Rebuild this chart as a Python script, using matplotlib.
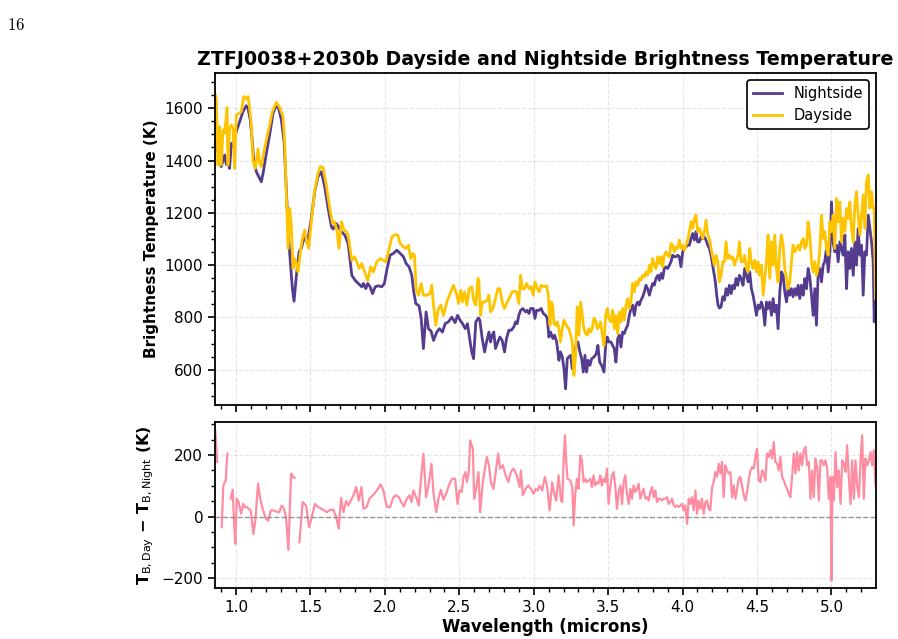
import numpy as np
import matplotlib
matplotlib.use("Agg")
from matplotlib import pyplot as plt
from matplotlib.ticker import MultipleLocator

# -----------------------------
# DATA
# -----------------------------
wl_night = [0.857, 0.868, 0.890, 0.901, 0.924, 0.935, 0.946, 0.957, 0.969, 0.980,
            1.002, 1.025, 1.047, 1.069, 1.081, 1.096, 1.110, 1.119, 1.137, 1.159,
            1.170, 1.182, 1.204, 1.226, 1.249, 1.271, 1.287, 1.305, 1.323, 1.338,
            1.352, 1.365, 1.379, 1.390, 1.406, 1.424, 1.439, 1.462, 1.480, 1.506,
            1.529, 1.551, 1.574, 1.596, 1.619, 1.641, 1.652, 1.675, 1.708, 1.731,
            1.753, 1.760, 1.778, 1.800, 1.822, 1.845, 1.856, 1.872, 1.885, 1.901,
            1.917, 1.935, 1.957, 1.979, 1.997, 2.013, 2.035, 2.058, 2.080, 2.103,
            2.125, 2.143, 2.163, 2.181, 2.194, 2.208, 2.230, 2.244, 2.259, 2.277,
            2.293, 2.311, 2.327, 2.349, 2.367, 2.387, 2.405, 2.427, 2.450, 2.472,
            2.488, 2.506, 2.522, 2.540, 2.555, 2.573, 2.584, 2.596, 2.611, 2.629,
            2.638, 2.654, 2.670, 2.683, 2.699, 2.710, 2.721, 2.732, 2.743, 2.759,
            2.773, 2.788, 2.804, 2.817, 2.833, 2.849, 2.867, 2.878, 2.889, 2.900,
            2.912, 2.927, 2.945, 2.956, 2.968, 2.979, 2.997, 3.008, 3.019, 3.035,
            3.050, 3.064, 3.080, 3.091, 3.102, 3.113, 3.129, 3.140, 3.154, 3.169,
            3.180, 3.192, 3.203, 3.214, 3.225, 3.236, 3.248, 3.259, 3.270, 3.284,
            3.297, 3.310, 3.322, 3.333, 3.344, 3.355, 3.366, 3.378, 3.389, 3.405,
            3.420, 3.431, 3.443, 3.456, 3.472, 3.483, 3.494, 3.505, 3.519, 3.530,
            3.541, 3.552, 3.564, 3.575, 3.586, 3.597, 3.608, 3.620, 3.631, 3.642,
            3.653, 3.664, 3.676, 3.687, 3.698, 3.709, 3.720, 3.732, 3.743, 3.754,
            3.765, 3.777, 3.788, 3.799, 3.810, 3.821, 3.833, 3.844, 3.855, 3.866,
            3.877, 3.889, 3.900, 3.911, 3.922, 3.933, 3.945, 3.956, 3.967, 3.978,
            3.989, 4.001, 4.012, 4.023, 4.034, 4.045, 4.057, 4.068, 4.079, 4.090,
            4.101, 4.113, 4.124, 4.135, 4.146, 4.157, 4.169, 4.180, 4.191, 4.202,
            4.213, 4.220, 4.229, 4.238, 4.247, 4.258, 4.270, 4.281, 4.292, 4.303,
            4.314, 4.326, 4.337, 4.348, 4.359, 4.370, 4.382, 4.393, 4.406, 4.417,
            4.429, 4.440, 4.451, 4.462, 4.473, 4.485, 4.496, 4.507, 4.518, 4.529,
            4.541, 4.552, 4.563, 4.574, 4.585, 4.597, 4.608, 4.619, 4.630, 4.641,
            4.653, 4.664, 4.675, 4.686, 4.698, 4.709, 4.720, 4.731, 4.742, 4.754,
            4.765, 4.776, 4.787, 4.798, 4.810, 4.821, 4.832, 4.843, 4.854, 4.866,
            4.877, 4.888, 4.899, 4.910, 4.922, 4.933, 4.944, 4.955, 4.966, 4.978,
            4.989, 5.000, 5.011, 5.022, 5.034, 5.045, 5.056, 5.067, 5.078, 5.090,
            5.101, 5.112, 5.123, 5.134, 5.146, 5.157, 5.168, 5.179, 5.191, 5.202,
            5.213, 5.224, 5.235, 5.247, 5.258, 5.269, 5.280, 5.287, 5.296]
t_night = [1472, 1460, 1408, 1377, 1421, 1385, 1398, 1370, 1466, 1453,
           1511, 1549, 1587, 1610, 1600, 1555, 1472, 1402, 1357, 1332,
           1319, 1351, 1428, 1498, 1581, 1610, 1600, 1555, 1472, 1294,
           1115, 1013, 910, 862, 961, 1051, 1064, 1115, 1083, 1179,
           1281, 1338, 1357, 1300, 1217, 1147, 1138, 1159, 1128, 1115,
           1083, 1051, 961, 942, 930, 917, 930, 910, 930, 917,
           891, 917, 921, 917, 930, 981, 1038, 1045, 1057, 1045,
           1032, 1006, 993, 961, 898, 853, 844, 796, 681, 821,
           757, 747, 712, 744, 757, 744, 776, 783, 801, 780,
           808, 789, 776, 757, 776, 706, 668, 642, 783, 798,
           789, 719, 668, 706, 744, 706, 732, 744, 681, 706,
           725, 712, 668, 719, 751, 751, 764, 783, 776, 808,
           827, 834, 821, 827, 815, 834, 834, 796, 827, 827,
           834, 815, 808, 796, 725, 744, 719, 732, 706, 636,
           668, 649, 604, 527, 642, 649, 655, 604, 629, 693,
           706, 668, 642, 591, 655, 591, 636, 617, 642, 649,
           661, 693, 629, 617, 591, 693, 725, 706, 706, 693,
           681, 629, 719, 732, 687, 744, 738, 757, 770, 808,
           834, 847, 808, 847, 859, 847, 866, 879, 898, 923,
           910, 885, 910, 930, 923, 949, 961, 942, 968, 949,
           987, 993, 987, 1000, 1013, 1038, 1032, 1032, 1038, 1032,
           994, 1051, 1064, 1070, 1076, 1076, 1102, 1121, 1096, 1128,
           1089, 1089, 1108, 1102, 1108, 1096, 1076, 1064, 1038, 1000,
           961, 936, 885, 847, 836, 840, 879, 866, 910, 885,
           923, 891, 923, 910, 949, 923, 961, 949, 923, 987,
           961, 936, 974, 910, 885, 847, 808, 847, 834, 859,
           834, 770, 859, 834, 859, 808, 872, 821, 847, 757,
           898, 974, 961, 898, 859, 910, 885, 910, 879, 910,
           885, 923, 872, 923, 885, 949, 910, 987, 955, 885,
           808, 910, 770, 961, 987, 936, 1000, 1013, 1064, 974,
           1051, 1242, 1089, 1051, 1076, 1013, 1089, 1064, 1038, 1115,
           910, 1051, 987, 1064, 961, 1089, 1000, 1140, 1038, 1076,
           885, 1051, 1038, 1191, 1140, 1089, 1013, 783, 859]

wl_day = [0.852, 0.868, 0.879, 0.890, 0.901, 0.913, 0.924, 0.940, 0.946, 0.957,
          0.969, 0.980, 0.991, 1.002, 1.020, 1.036, 1.052, 1.069, 1.081, 1.092,
          1.103, 1.114, 1.130, 1.148, 1.159, 1.170, 1.182, 1.204, 1.226, 1.244,
          1.271, 1.294, 1.316, 1.327, 1.338, 1.350, 1.361, 1.372, 1.383, 1.394,
          1.406, 1.417, 1.433, 1.446, 1.462, 1.473, 1.489, 1.506, 1.529, 1.551,
          1.567, 1.585, 1.607, 1.630, 1.648, 1.663, 1.679, 1.692, 1.708, 1.726,
          1.742, 1.753, 1.760, 1.778, 1.796, 1.811, 1.827, 1.845, 1.856, 1.872,
          1.885, 1.905, 1.923, 1.946, 1.968, 1.991, 2.006, 2.024, 2.047, 2.069,
          2.087, 2.103, 2.125, 2.143, 2.159, 2.174, 2.188, 2.199, 2.210, 2.226,
          2.244, 2.259, 2.282, 2.304, 2.315, 2.327, 2.342, 2.360, 2.376, 2.394,
          2.416, 2.439, 2.461, 2.484, 2.495, 2.510, 2.522, 2.535, 2.551, 2.566,
          2.584, 2.596, 2.611, 2.625, 2.631, 2.643, 2.654, 2.670, 2.687, 2.699,
          2.710, 2.726, 2.743, 2.759, 2.773, 2.788, 2.804, 2.822, 2.840, 2.856,
          2.871, 2.885, 2.900, 2.912, 2.923, 2.938, 2.952, 2.968, 2.983, 2.997,
          3.008, 3.024, 3.037, 3.050, 3.068, 3.086, 3.098, 3.109, 3.118, 3.127,
          3.136, 3.147, 3.158, 3.169, 3.180, 3.192, 3.203, 3.214, 3.225, 3.236,
          3.248, 3.259, 3.270, 3.281, 3.292, 3.304, 3.315, 3.326, 3.337, 3.349,
          3.360, 3.371, 3.382, 3.393, 3.404, 3.416, 3.427, 3.438, 3.449, 3.461,
          3.472, 3.483, 3.494, 3.505, 3.519, 3.530, 3.541, 3.552, 3.564, 3.575,
          3.586, 3.597, 3.608, 3.620, 3.631, 3.642, 3.653, 3.664, 3.676, 3.687,
          3.698, 3.709, 3.720, 3.732, 3.743, 3.754, 3.765, 3.777, 3.788, 3.799,
          3.810, 3.821, 3.833, 3.844, 3.855, 3.866, 3.877, 3.889, 3.900, 3.911,
          3.922, 3.933, 3.945, 3.956, 3.967, 3.978, 3.989, 4.001, 4.012, 4.023,
          4.034, 4.045, 4.057, 4.068, 4.079, 4.090, 4.101, 4.113, 4.124, 4.135,
          4.146, 4.157, 4.169, 4.180, 4.191, 4.202, 4.213, 4.225, 4.236, 4.247,
          4.258, 4.270, 4.281, 4.292, 4.303, 4.314, 4.326, 4.337, 4.348, 4.359,
          4.370, 4.382, 4.393, 4.406, 4.417, 4.429, 4.440, 4.451, 4.462, 4.473,
          4.485, 4.496, 4.507, 4.518, 4.529, 4.541, 4.552, 4.563, 4.574, 4.585,
          4.597, 4.608, 4.619, 4.630, 4.641, 4.653, 4.664, 4.675, 4.686, 4.698,
          4.709, 4.720, 4.731, 4.742, 4.754, 4.765, 4.776, 4.787, 4.798, 4.810,
          4.821, 4.832, 4.843, 4.854, 4.866, 4.877, 4.888, 4.899, 4.910, 4.922,
          4.933, 4.944, 4.955, 4.966, 4.978, 4.989, 5.000, 5.011, 5.022, 5.034,
          5.045, 5.056, 5.067, 5.078, 5.090, 5.101, 5.112, 5.123, 5.134, 5.146,
          5.157, 5.168, 5.179, 5.191, 5.202, 5.213, 5.224, 5.235, 5.247, 5.258,
          5.269, 5.280, 5.287, 5.296]
t_day = [1670, 1638, 1383, 1530, 1383, 1517, 1504, 1603, 1383, 1523,
         1536, 1523, 1370, 1574, 1581, 1587, 1645, 1636, 1645, 1600,
         1536, 1402, 1370, 1444, 1389, 1377, 1415, 1479, 1536, 1587,
         1623, 1603, 1568, 1472, 1281, 1064, 1217, 1153, 987, 1025,
         1006, 974, 1051, 1102, 1134, 1096, 1064, 1166, 1287, 1351,
         1377, 1373, 1306, 1217, 1159, 1166, 1128, 1064, 1166, 1134,
         1128, 1115, 1089, 1019, 1032, 1013, 987, 1006, 987, 961,
         942, 993, 974, 1013, 1025, 1019, 1013, 1051, 1108, 1117,
         1115, 1083, 1070, 1064, 1076, 1025, 1044, 1038, 910, 885,
         930, 885, 885, 891, 923, 847, 770, 834, 847, 808,
         859, 891, 923, 885, 853, 904, 859, 898, 847, 910,
         917, 866, 847, 949, 942, 808, 859, 859, 866, 885,
         821, 834, 872, 910, 910, 859, 834, 859, 879, 898,
         900, 898, 853, 961, 910, 910, 930, 910, 917, 885,
         936, 910, 898, 923, 917, 921, 885, 770, 859, 847,
         776, 770, 783, 757, 706, 757, 789, 776, 764, 757,
         732, 706, 578, 655, 840, 732, 859, 808, 757, 738,
         732, 757, 744, 757, 796, 789, 757, 764, 783, 732,
         693, 808, 834, 796, 783, 827, 757, 808, 738, 821,
         783, 834, 789, 847, 872, 834, 859, 930, 898, 936,
         923, 949, 942, 961, 955, 974, 961, 1000, 974, 1025,
         1000, 987, 1032, 1006, 1032, 993, 1038, 1051, 1038, 1032,
         1083, 1076, 1051, 1070, 1064, 1096, 1064, 1076, 1057, 1076,
         1096, 1128, 1166, 1140, 1179, 1191, 1128, 1140, 1121, 1102,
         1128, 1172, 1115, 1102, 1064, 1032, 1000, 1038, 1013, 936,
         961, 1013, 1013, 1089, 1025, 1038, 1025, 1032, 1000, 1019,
         1032, 1089, 1013, 1013, 1038, 987, 974, 1064, 1013, 987,
         1019, 974, 1013, 961, 1000, 885, 949, 1013, 1115, 949,
         1089, 1000, 1115, 987, 936, 1064, 1115, 1076, 987, 949,
         910, 936, 1013, 1076, 1051, 1064, 1076, 1057, 1089, 1102,
         1064, 1076, 1166, 1115, 1013, 974, 1013, 961, 987, 1064,
         1191, 1102, 1128, 1064, 1038, 1166, 1128, 1191, 1064, 1255,
         1166, 1242, 1089, 1179, 1128, 1217, 1179, 1242, 1140, 1089,
         1230, 1281, 1191, 1115, 1191, 1268, 1140, 1319, 1345, 1217,
         1281, 1217, 1217, 872]

nan = np.nan
wl_diff = [0.861, 0.874, 0.888,
           0.904, 0.915, 0.931, 0.942, 0.952,
           0.964, 0.978, 0.987, 0.996, 1.005, 1.018, 1.034, 1.049, 1.060, 1.072,
           1.085, 1.099, 1.117, 1.130, 1.148, 1.161, 1.179, 1.202, 1.217, 1.233,
           1.251, 1.273, 1.291, 1.307, 1.323, 1.336, 1.352, 1.370, 1.385, 1.394,
           1.410,
           1.426, 1.448, 1.471, 1.491, 1.509, 1.531, 1.553, 1.576, 1.610, 1.632,
           1.654, 1.672, 1.690, 1.706, 1.722, 1.740, 1.755, 1.771, 1.789, 1.807,
           1.825, 1.843, 1.856, 1.878, 1.896, 1.919, 1.946, 1.972, 1.990, 2.013,
           2.035, 2.058, 2.076, 2.094, 2.114, 2.129, 2.147, 2.165, 2.179, 2.192,
           2.210, 2.228, 2.244, 2.259, 2.277, 2.295, 2.313, 2.327, 2.345, 2.360,
           2.376, 2.394, 2.416, 2.434, 2.452, 2.472, 2.488, 2.501, 2.517, 2.528,
           2.542, 2.551, 2.564, 2.573, 2.591, 2.600, 2.613, 2.629, 2.640, 2.658,
           2.672, 2.685, 2.699, 2.712, 2.730, 2.746, 2.761, 2.775, 2.793, 2.811,
           2.829, 2.846, 2.864, 2.887, 2.905, 2.914, 2.927, 2.945, 2.963, 2.981,
           2.999, 3.012, 3.026, 3.039, 3.057, 3.075, 3.089, 3.107, 3.124, 3.138,
           3.151, 3.167, 3.183, 3.192, 3.201, 3.210, 3.218, 3.227, 3.245, 3.259,
           3.268, 3.279, 3.290, 3.301, 3.313, 3.324, 3.335, 3.346, 3.357, 3.369,
           3.380, 3.391, 3.402, 3.413, 3.425, 3.436, 3.447, 3.458, 3.469, 3.481,
           3.492, 3.503, 3.514, 3.525, 3.537, 3.548, 3.559, 3.570, 3.582, 3.593,
           3.604, 3.615, 3.626, 3.638, 3.649, 3.660, 3.671, 3.682, 3.694, 3.705,
           3.716, 3.727, 3.738, 3.750, 3.761, 3.772, 3.783, 3.794, 3.806, 3.817,
           3.828, 3.839, 3.850, 3.862, 3.873, 3.884, 3.895, 3.906, 3.918, 3.929,
           3.940, 3.951, 3.962, 3.974, 3.985, 3.996, 4.007, 4.018, 4.030, 4.041,
           4.052, 4.063, 4.074, 4.086, 4.097, 4.108, 4.119, 4.130, 4.142, 4.153,
           4.164, 4.175, 4.186, 4.198, 4.209, 4.220, 4.231, 4.243, 4.254, 4.265,
           4.276, 4.287, 4.299, 4.310, 4.321, 4.332, 4.343, 4.355, 4.366, 4.377,
           4.388, 4.399, 4.411, 4.422, 4.433, 4.444, 4.455, 4.467, 4.478, 4.489,
           4.500, 4.511, 4.523, 4.534, 4.545, 4.556, 4.567, 4.579, 4.590, 4.601,
           4.612, 4.623, 4.635, 4.646, 4.657, 4.668, 4.680, 4.691, 4.702, 4.713,
           4.724, 4.736, 4.747, 4.758, 4.769, 4.780, 4.792, 4.803, 4.814, 4.825,
           4.836, 4.848, 4.859, 4.870, 4.881, 4.892, 4.904, 4.915, 4.926, 4.937,
           4.948, 4.960, 4.971, 4.982, 4.993, 5.000, 5.007, 5.016, 5.027, 5.038,
           5.049, 5.061, 5.072, 5.083, 5.094, 5.105, 5.116, 5.128, 5.139, 5.150,
           5.161, 5.172, 5.184, 5.195, 5.206, 5.217, 5.228, 5.240, 5.251, 5.262,
           5.273, 5.284, 5.296]
t_diff = [281, 178, nan,
          -35, 101, 118, 205, nan,
          58, 87, -24, -89, 58, 47, 9, 41, 31, 31,
          25, 20, -57, -13, 107, 63, 25, -8, -13, 20,
          20, 16, 14, 36, 25, -2, -109, 140, 129, 126,
          nan,
          -84, 47, 36, -35, -2, 41, 31, 25, 14, 22,
          22, 0, -40, 61, 14, 50, 36, 52, 69, 96,
          52, 96, 25, 31, 58, 69, 85, 105, 85, 31,
          31, 63, 69, 63, 44, 33, 58, 69, 47, 85,
          63, 36, 129, 205, 63, 107, 172, 74, 14, 58,
          87, 55, 80, 107, 123, 123, 41, 85, 80, 129,
          145, 112, 145, 248, 221, 58, 90, 145, 14, 112,
          156, 194, 167, 112, 90, 150, 205, 156, 167, 134,
          112, 145, 156, 134, 96, 150, 69, 90, 101, 90,
          74, 90, 85, 101, 85, 129, 101, 20, 112, 74,
          52, 134, 52, 47, 189, 265, 183, 123, 118, 96,
          -29, 74, 123, 90, 199, 183, 112, 123, 112, 118,
          123, 96, 134, 101, 112, 107, 134, 101, 123, 112,
          156, 41, 96, 134, 145, 96, 25, 80, 101, 41,
          112, 134, 74, 41, 90, 58, 101, 80, 90, 107,
          58, 74, 90, 58, 63, 52, 80, 96, 63, 85,
          47, 58, 58, 52, 58, 58, 63, 41, 47, 58,
          36, 31, 36, 31, 36, 41, 20, 36, -24, 58,
          41, 63, 20, 85, 9, 52, 25, 58, 9, 47,
          52, 25, 20, 96, 112, 145, 129, 172, 140, 178,
          63, 167, 150, 140, 145, 63, 101, 58, 90, 123,
          129, 101, 69, 52, 80, 118, 150, 161, 156, 194,
          221, 118, 112, 150, 140, 118, 205, 194, 216, 189,
          243, 178, 172, 150, 194, 129, 118, 101, 90, 74,
          63, 134, 205, 140, 210, 150, 205, 167, 216, 227,
          167, 178, 58, 150, 63, 189, 161, 52, 183, 183,
          167, 183, 156, 58, 129, -209, 129, 52, 210, 96,
          150, 41, 183, 172, 145, 232, 129, 41, 183, 58,
          183, 101, 63, 183, 265, 58, 189, 167, 183, 210,
          167, 216, 101]

night_color = "#553C8F"
day_color = "#FFC400"
diff_color = "#FF8DA1"

# -----------------------------
# FIGURE
# -----------------------------
fig = plt.figure(figsize=(8.98, 6.39), dpi=100)
ax1 = fig.add_axes([0.2394, 0.3662, 0.7361, 0.5196])
ax2 = fig.add_axes([0.2394, 0.0798, 0.7361, 0.2598], sharex=ax1)

ax1.plot(wl_night, t_night, color=night_color, linewidth=2.0, label="Nightside")
ax1.plot(wl_day, t_day, color=day_color, linewidth=2.0, label="Dayside")
ax1.set_ylim(465, 1735)
ax1.set_ylabel("Brightness Temperature (K)", fontsize=11, fontweight="bold")
ax1.set_title("ZTFJ0038+2030b Dayside and Nightside Brightness Temperature",
              fontsize=13.7, fontweight="bold", pad=6)
leg = ax1.legend(loc="upper right", fontsize=10.5, framealpha=1, edgecolor="black",
                 fancybox=True, borderpad=0.4, handlelength=2.0)
leg.get_frame().set_linewidth(1.2)
ax1.yaxis.set_major_locator(MultipleLocator(200))
ax1.yaxis.set_minor_locator(MultipleLocator(50))
ax1.tick_params(axis="x", labelbottom=False)

ax2.plot(wl_diff, t_diff, color=diff_color, linewidth=1.6)
ax2.axhline(0, color="gray", linestyle="--", linewidth=1.0, alpha=0.8)
ax2.set_ylim(-233, 308)
ax2.set_xlim(0.859, 5.299)
ax2.set_xlabel("Wavelength (microns)", fontsize=12, fontweight="bold", labelpad=2)
ax2.set_ylabel("T$_{\\rm B, Day}$ − T$_{\\rm B, Night}$ (K)", fontsize=11.5,
               fontweight="bold")
ax2.yaxis.set_major_locator(MultipleLocator(200))
ax2.yaxis.set_minor_locator(MultipleLocator(50))
ax2.xaxis.set_major_locator(MultipleLocator(0.5))
ax2.xaxis.set_minor_locator(MultipleLocator(0.1))

for ax in (ax1, ax2):
    ax.grid(True, which="major", linestyle="--", color="gray", alpha=0.2, linewidth=0.8)
    ax.tick_params(which="major", direction="out", length=5, width=1.2, labelsize=11)
    ax.tick_params(which="minor", direction="out", length=3, width=1.0)
    for sp in ax.spines.values():
        sp.set_linewidth(1.3)

fig.align_ylabels([ax1, ax2])
fig.text(0.008, 0.975, "$16$", math_fontfamily="cm", fontsize=12, va="top", ha="left")

plt.savefig("out.png", dpi=100)
